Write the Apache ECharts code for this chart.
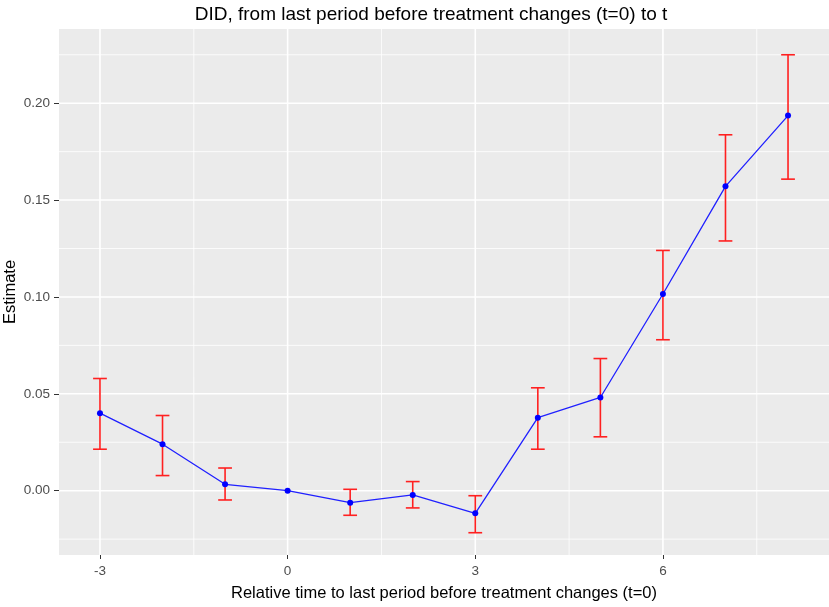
<!DOCTYPE html>
<html>
<head>
<meta charset="utf-8">
<script src="https://cdn.jsdelivr.net/npm/echarts@6/dist/echarts.min.js"></script>
<style>
  html, body { margin: 0; padding: 0; background: #ffffff; }
  #chart { width: 829px; height: 607px; }
</style>
</head>
<body>
<div id="chart"></div>
<script>
// Event-study estimates by period relative to the last pre-treatment period
const periods   = [-3, -2, -1, 0, 1, 2, 3, 4, 5, 6, 7, 8];
const estimates = [0.0400, 0.0240, 0.0033, 0.0000, -0.0062, -0.0022, -0.0117, 0.0377, 0.0481, 0.1015, 0.1571, 0.1936];
const ciUpper   = [0.0579, 0.0388, 0.0117, null, 0.0007, 0.0047, -0.0026, 0.0531, 0.0682, 0.1240, 0.1837, 0.2250];
const ciLower   = [0.0214, 0.0078, -0.0048, null, -0.0127, -0.0089, -0.0217, 0.0214, 0.0278, 0.0779, 0.1289, 0.1608];

// Axis ticks and grid positions
const xTicks      = [-3, 0, 3, 6];
const xMinorGrid  = [-1.5, 1.5, 4.5, 7.5];
const yTicks      = [0, 0.05, 0.10, 0.15, 0.20];
const yMinorGrid  = [-0.025, 0.025, 0.075, 0.125, 0.175, 0.225];

const X_MIN = -3.655, X_MAX = 8.655;
const Y_MIN = -0.0332, Y_MAX = 0.2383;

const FONT = '"Liberation Sans", Arial, sans-serif';

const chart = echarts.init(document.getElementById('chart'), null, { renderer: 'canvas' });

function gridRenderer(orient, width) {
  return function (params, api) {
    const v = api.value(0);
    const a = orient === 'v' ? api.coord([v, Y_MIN]) : api.coord([X_MIN, v]);
    const b = orient === 'v' ? api.coord([v, Y_MAX]) : api.coord([X_MAX, v]);
    return {
      type: 'line',
      shape: { x1: a[0], y1: a[1], x2: b[0], y2: b[1] },
      style: { stroke: '#ffffff', lineWidth: width }
    };
  };
}

const errData = periods
  .map((p, i) => [p, ciLower[i], ciUpper[i]])
  .filter(d => d[1] !== null && d[2] !== null);

chart.setOption({
  animation: false,
  backgroundColor: '#ffffff',
  title: {
    text: 'DID, from last period before treatment changes (t=0) to t',
    left: 426, top: 0, textAlign: 'center',
    textStyle: { fontFamily: FONT, fontSize: 19, fontWeight: 'normal', color: '#000000' }
  },
  grid: {
    left: 59, right: 0, top: 29, bottom: 52,
    outerBoundsMode: 'none', containLabel: false,
    show: true, backgroundColor: '#EBEBEB', borderWidth: 0
  },
  xAxis: {
    type: 'value', min: X_MIN, max: X_MAX,
    name: 'Relative time to last period before treatment changes (t=0)',
    nameLocation: 'middle', nameGap: 30, nameMoveOverlap: false,
    nameTextStyle: { fontFamily: FONT, fontSize: 16.5, color: '#000000' },
    axisLine: { show: false, onZero: false },
    splitLine: { show: false },
    axisTick: { show: true, length: 4, customValues: xTicks, lineStyle: { color: '#333333', width: 1 } },
    axisLabel: { customValues: xTicks, margin: 9, fontFamily: FONT, fontSize: 13.5, color: '#4D4D4D' }
  },
  yAxis: {
    type: 'value', min: Y_MIN, max: Y_MAX,
    name: 'Estimate', nameLocation: 'middle', nameGap: 40, nameRotate: 90, nameMoveOverlap: false,
    nameTextStyle: { fontFamily: FONT, fontSize: 16.5, color: '#000000' },
    axisLine: { show: false, onZero: false },
    splitLine: { show: false },
    axisTick: { show: true, length: 5, customValues: yTicks, lineStyle: { color: '#333333', width: 1 } },
    axisLabel: {
      customValues: yTicks, margin: 9, fontFamily: FONT, fontSize: 13.5, color: '#4D4D4D',
      formatter: v => v.toFixed(2)
    }
  },
  series: [
    { type: 'custom', z: 1, silent: true, renderItem: gridRenderer('v', 0.8), data: xMinorGrid.map(v => [v]) },
    { type: 'custom', z: 1, silent: true, renderItem: gridRenderer('h', 0.8), data: yMinorGrid.map(v => [v]) },
    { type: 'custom', z: 1, silent: true, renderItem: gridRenderer('v', 1.6), data: xTicks.map(v => [v]) },
    { type: 'custom', z: 1, silent: true, renderItem: gridRenderer('h', 1.6), data: yTicks.map(v => [v]) },
    {
      // Confidence-interval error bars with caps
      type: 'custom', z: 3, silent: true,
      data: errData,
      encode: { x: 0, y: [1, 2] },
      renderItem: function (params, api) {
        const x = api.value(0);
        const lo = api.coord([x, api.value(1)]);
        const hi = api.coord([x, api.value(2)]);
        const capL = api.coord([x - 0.11, api.value(1)])[0];
        const capR = api.coord([x + 0.11, api.value(1)])[0];
        const style = { stroke: '#FF2020', lineWidth: 1.6 };
        return {
          type: 'group',
          children: [
            { type: 'line', shape: { x1: lo[0], y1: lo[1], x2: hi[0], y2: hi[1] }, style },
            { type: 'line', shape: { x1: capL, y1: hi[1], x2: capR, y2: hi[1] }, style },
            { type: 'line', shape: { x1: capL, y1: lo[1], x2: capR, y2: lo[1] }, style }
          ]
        };
      }
    },
    {
      type: 'line', z: 4,
      data: periods.map((p, i) => [p, estimates[i]]),
      lineStyle: { color: '#2020FF', width: 1.3 },
      itemStyle: { color: '#0000FF' },
      symbol: 'circle', symbolSize: 6, showSymbol: true
    }
  ]
});
</script>
</body>
</html>
